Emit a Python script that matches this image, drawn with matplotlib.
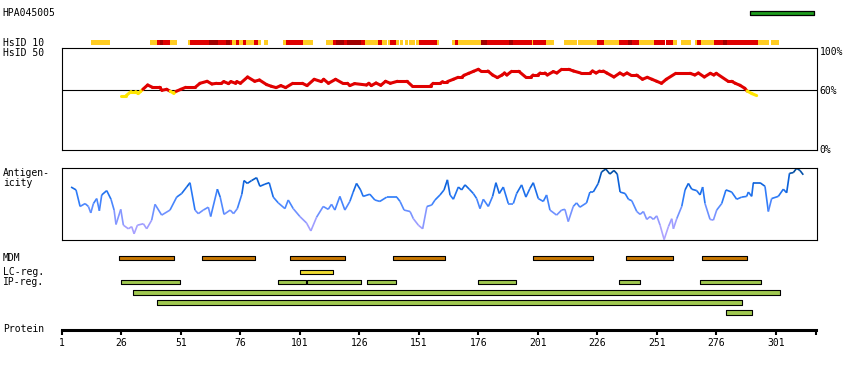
import matplotlib
matplotlib.use("Agg")
import matplotlib.pyplot as plt
from matplotlib.collections import LineCollection
from matplotlib.colors import LinearSegmentedColormap

plt.rcParams['font.family'] = ['DejaVu Sans Mono']

# ---- data ----
SEQ_LEN = 318
TICKS = [1, 26, 51, 76, 101, 126, 151, 176, 201, 226, 251, 276, 301]

ANTIGEN_ID = "HPA045005"
ANTIGEN_RANGE = (290, 317)

# HsID 10 strip: (start, end, level) level 1=low, 2=mid, 3=high
HSID10_SEGS = [
    (13, 21, 1), (38, 41, 1), (41, 42, 2), (42, 43.5, 3), (43.5, 46.5, 2), (46.5, 49.5, 1),
    (54, 55, 1), (55, 63, 2), (63, 66.5, 3), (66.5, 70, 2), (70, 71.5, 3), (71.5, 72.5, 2),
    (72.5, 74, 1), (74, 75.5, 2), (75.5, 77, 1), (77, 78.5, 2), (78.5, 81.5, 1), (81.5, 83.5, 2),
    (83.5, 84.5, 1), (86, 87.5, 1), (94, 95, 1), (95, 102.5, 2), (102.5, 106.5, 1),
    (112, 115, 1), (115, 116, 2), (116, 119.5, 3), (119.5, 121, 2), (121, 126.5, 3),
    (126.5, 128.5, 2), (128.5, 134, 1), (134, 135.5, 2), (135.5, 137.5, 1), (138, 139, 1),
    (139, 141.5, 2), (141.5, 142.5, 1), (143, 144.5, 1), (145, 146.5, 1), (147, 149.5, 1),
    (150, 151, 1), (151, 158.5, 2), (158.5, 159.5, 1), (165, 166, 1), (166, 167.5, 2),
    (167.5, 177, 1), (177, 179.5, 3), (179.5, 189, 2), (189, 190.5, 3), (190.5, 198.5, 2),
    (198.5, 199, 1), (199, 204.5, 2), (204.5, 208, 1), (212, 217.5, 1), (218, 226, 1),
    (226, 229, 2), (229, 235, 1), (235, 239, 2), (239, 240.5, 3), (240.5, 243.5, 2),
    (243.5, 250, 1), (250, 254.5, 2), (255, 258, 2), (258, 259.5, 1), (261, 265.5, 1),
    (267, 268, 1), (268, 269.5, 2), (269.5, 275, 1), (275, 279, 2), (279, 280.5, 3),
    (280.5, 293.5, 2), (293.5, 298, 1), (299, 302.5, 1),
]

# HsID 50 identity line (%)
HSID50_POS = [26, 28, 30, 32, 33, 34, 35, 37, 39, 42, 43, 45, 46.5, 48, 49, 51, 53, 57, 59, 62,
              64, 66, 68, 69, 71, 72, 74, 74.5, 76, 79, 82, 84, 87, 89, 91, 93, 95, 98, 102, 104,
              107, 110, 111, 113, 116, 119, 121, 122, 124, 129, 130, 131, 133, 135, 137, 139, 142,
              146, 148, 156, 157, 160, 161, 163, 165.5, 167.5, 169, 170, 172, 174, 176, 177, 180,
              182, 184, 186, 187, 188, 190, 193, 196, 198, 199, 201, 202, 204, 205, 207.5, 209,
              211, 214, 216, 219, 223, 224, 225.5, 227, 228.5, 230, 233, 235.5, 237, 238.5, 240,
              242.5, 245, 247, 249, 251, 253, 255, 259, 265, 267, 268.5, 271, 273.5, 275, 276,
              281, 282.5, 284, 286, 288, 289, 291, 293]
HSID50_VAL = [54.7, 54.7, 58.7, 58.7, 56.7, 58.7, 61, 65.3, 63, 63, 60, 61, 59, 57, 59, 61, 63, 63,
              67, 69, 66.3, 67, 67, 68.7, 66.7, 68.7, 67, 68.7, 67, 73.3, 69, 70.3, 65.7, 64, 62.7,
              64.7, 62.7, 67, 67, 64.7, 71, 68.7, 71, 67, 71, 67, 67, 64.7, 66.7, 65.3, 67, 64.7,
              67.3, 65, 69, 67, 69, 69, 64.7, 64.7, 67, 67, 68.7, 68.7, 71, 73, 73, 75, 77, 79,
              81, 79.3, 79.3, 75.3, 72.7, 75.3, 77.3, 75.3, 79, 79, 73, 73, 75.3, 75.3, 77.3, 77.3,
              75.3, 78.7, 77.3, 81, 81, 79.3, 77.3, 77.3, 79.3, 77.3, 79.3, 79.3, 77.3, 73.3, 77.3,
              75.3, 77.3, 75.3, 75.3, 71, 73, 71, 69, 67, 71, 77, 77, 75.3, 77.3, 73.3, 77, 75.3,
              77, 69, 69, 67, 65, 62, 59.3, 56.7, 54.7]
HSID_CUTOFF = 60

# antigenicity profile (relative, 0 = panel bottom, 1 = panel top)
ANTI_POS = [4.8, 6.9, 8.6, 10.7, 12.1, 13.1, 14.2, 15.6, 16.7, 17.7, 19.8, 21.6, 22.9, 23.7, 25.7,
            26.8, 28.9, 30.3, 31.3, 32.7, 35.2, 36.6, 38.7, 40.1, 42.9, 46.4, 49.2, 51.3, 53.4,
            54.8, 56.9, 58.3, 60.4, 62.5, 63.5, 66.3, 67.5, 69.1, 71.7, 73.1, 74.7, 76.6, 77.5,
            78.9, 80.7, 82.8, 84.2, 86.3, 88.1, 89.8, 91.9, 94.7, 96.1, 98.2, 101.0, 103.8, 105.6,
            108.0, 110.8, 112.9, 114.3, 115.7, 117.8, 119.9, 122.0, 123.4, 124.8, 126.5, 127.6,
            130.4, 132.5, 134.6, 137.5, 141.7, 143.1, 144.8, 147.3, 148.7, 150.8, 152.6, 154.4,
            156.4, 157.8, 159.9, 161.6, 163.0, 164.1, 165.5, 167.6, 169.0, 170.4, 172.2, 173.9,
            175.3, 176.7, 178.1, 180.2, 182.0, 183.4, 184.8, 186.5, 188.6, 190.7, 192.1, 194.2,
            196.0, 197.7, 199.1, 201.2, 203.3, 204.7, 206.1, 208.9, 211.0, 212.4, 213.8, 215.9,
            217.3, 218.7, 221.5, 222.9, 224.3, 226.4, 227.8, 229.6, 231.3, 233.0, 234.4, 235.6,
            237.7, 239.1, 240.5, 242.6, 244.0, 245.4, 246.8, 248.2, 249.6, 251.0, 252.4, 254.1,
            255.9, 257.3, 258.0, 259.4, 261.5, 262.9, 264.3, 265.7, 267.8, 269.2, 270.3, 271.3,
            273.4, 274.8, 276.2, 278.3, 280.1, 282.5, 284.6, 286.7, 288.8, 289.5, 290.9, 291.6,
            294.4, 296.5, 297.9, 299.3, 302.1, 304.2, 305.6, 306.8, 308.4, 309.8, 311.2, 312.6]
ANTI_VAL = [0.74, 0.70, 0.47, 0.51, 0.47, 0.38, 0.51, 0.58, 0.41, 0.63, 0.69, 0.57, 0.42, 0.22, 0.43,
            0.21, 0.16, 0.19, 0.09, 0.21, 0.23, 0.16, 0.28, 0.50, 0.35, 0.42, 0.60, 0.65, 0.74,
            0.80, 0.42, 0.37, 0.42, 0.46, 0.33, 0.71, 0.60, 0.36, 0.42, 0.37, 0.44, 0.64, 0.83,
            0.79, 0.83, 0.87, 0.75, 0.78, 0.80, 0.60, 0.52, 0.44, 0.56, 0.44, 0.33, 0.24, 0.13,
            0.32, 0.47, 0.43, 0.50, 0.42, 0.61, 0.42, 0.54, 0.67, 0.79, 0.70, 0.61,
            0.64, 0.56, 0.54, 0.60, 0.60, 0.54, 0.42, 0.40, 0.30, 0.21, 0.16, 0.47,
            0.49, 0.56, 0.63, 0.70, 0.84, 0.63, 0.57, 0.74, 0.70, 0.77, 0.71, 0.65,
            0.58, 0.44, 0.57, 0.47, 0.61, 0.80, 0.65, 0.74, 0.51, 0.51, 0.65, 0.77,
            0.60, 0.72, 0.80, 0.58, 0.54, 0.63, 0.42, 0.35, 0.42, 0.43, 0.26, 0.47,
            0.52, 0.46, 0.52, 0.67, 0.67, 0.79, 0.95, 0.99, 0.92, 0.97, 0.92, 0.67,
            0.65, 0.57, 0.55, 0.40, 0.36, 0.40, 0.29, 0.33, 0.29, 0.34, 0.21, 0.01,
            0.19, 0.30, 0.16, 0.30, 0.47, 0.70, 0.79, 0.71, 0.69, 0.63, 0.74, 0.51,
            0.29, 0.28, 0.42, 0.51, 0.70, 0.67, 0.57, 0.60, 0.61, 0.67, 0.61, 0.80,
            0.80, 0.75, 0.40, 0.58, 0.61, 0.71, 0.66, 0.93, 0.94, 1.00, 0.97, 0.91]

# feature tracks
MDM = [(25, 48), (60, 82), (97, 120), (140, 162), (199, 224), (238, 258), (270, 289)]
LC_REG = [(101, 115)]
IP_REG_ROWS = [
    [(26, 50.5), (92, 103.5), (104, 126.5), (129, 141.5), (176, 192), (235, 244), (269, 295)],
    [(31, 303)],
    [(41, 287)],
    [(280, 291)],
]

# ---- layout (pixels of an 850x370 picture) ----
W, H = 850, 370
PX0, PX1 = 61.5, 817.0
RES1_PX, PX_PER_RES = 62.0, 2.379
XLIM = (1 + (PX0 - RES1_PX) / PX_PER_RES, 1 + (PX1 - RES1_PX) / PX_PER_RES)
LVL_COLORS = {1: '#FFCC22', 2: '#E00000', 3: '#A00000'}


def rect(x0, y0, x1, y1):
    return [x0 / W, 1 - y1 / H, (x1 - x0) / W, (y1 - y0) / H]


def label(x, y, s, **kw):
    fig.text(x / W, 1 - y / H, s, fontsize=7, va='center', **kw)


fig = plt.figure(figsize=(8.5, 3.7), dpi=100)

# overlay for strips / bars (y in pixels)
trk = fig.add_axes(rect(PX0, 0, PX1, H))
trk.set_xlim(XLIM)
trk.set_ylim(H, 0)
trk.axis('off')

trk.broken_barh([(ANTIGEN_RANGE[0], ANTIGEN_RANGE[1] - ANTIGEN_RANGE[0])], (10.5, 4),
                facecolors='#1E9E1E', edgecolor='black', linewidth=0.9)

for lvl, col in LVL_COLORS.items():
    segs = [(s, e - s) for s, e, l in HSID10_SEGS if l == lvl]
    trk.broken_barh(segs, (40, 5), facecolors=col, linewidth=0)


def bars(ranges, yc, color):
    trk.broken_barh([(s, e - s) for s, e in ranges], (yc - 2.2, 4.4),
                    facecolors=color, edgecolor='black', linewidth=0.8)


bars(MDM, 258, '#C87800')
bars(LC_REG, 272.2, '#F0DC30')
for yc, row in zip([282.2, 292.3, 302.3, 312.3], IP_REG_ROWS):
    bars(row, yc, '#A0C850')

# HsID 50 panel
ax1 = fig.add_axes(rect(PX0, 48.3, PX1, 150.3))
ax1.set_xlim(XLIM)
ax1.set_ylim(0, 102)
ax1.axhline(HSID_CUTOFF, color='black', lw=0.8)
pts = list(zip(HSID50_POS, HSID50_VAL))
segs = [[pts[i], pts[i + 1]] for i in range(len(pts) - 1)]
cols = ['#E00000' if (a[1] + b[1]) / 2 >= HSID_CUTOFF else '#FFE600' for a, b in segs]
ax1.add_collection(LineCollection(segs, colors=cols, linewidths=2.2, capstyle='round'))
ax1.set_xticks([])
ax1.set_yticks([])
for sp in ax1.spines.values():
    sp.set_linewidth(0.8)

# antigenicity panel
ax2 = fig.add_axes(rect(PX0, 168.3, PX1, 240.3))
ax2.set_xlim(XLIM)
ax2.set_ylim(0, 1.0)
cmap = LinearSegmentedColormap.from_list('anti', [
    (0.0, '#B8A8FF'), (0.25, '#9C9CFF'), (0.45, '#5A8CFF'),
    (0.6, '#2A7AF8'), (0.8, '#0A60D8'), (1.0, '#004A96')])
pts = list(zip(ANTI_POS, ANTI_VAL))
segs = [[pts[i], pts[i + 1]] for i in range(len(pts) - 1)]
cols = [cmap((a[1] + b[1]) / 2) for a, b in segs]
ax2.add_collection(LineCollection(segs, colors=cols, linewidths=1.2))
ax2.set_xticks([])
ax2.set_yticks([])
for sp in ax2.spines.values():
    sp.set_linewidth(0.8)

# protein ruler
ax3 = fig.add_axes(rect(PX0, 328.7, PX1, 329.7))
ax3.set_xlim(XLIM)
for k in ['top', 'left', 'right']:
    ax3.spines[k].set_visible(False)
ax3.spines['bottom'].set_linewidth(2.2)
ax3.spines['bottom'].set_bounds(1, SEQ_LEN)
ax3.set_yticks([])
ax3.set_xticks(TICKS)
ax3.set_xticks([SEQ_LEN], minor=True)
ax3.tick_params(which='both', direction='out', length=3.3, width=1.5, pad=2.5, labelsize=7)
ax3.patch.set_alpha(0)

# texts
label(2.7, 13, ANTIGEN_ID)
label(2.7, 42.5, "HsID 10")
label(2.7, 52.5, "HsID 50")
label(2.7, 172.8, "Antigen-")
label(2.7, 183, "icity")
label(2.7, 258, "MDM")
label(2.7, 272, "LC-reg.")
label(2.7, 282, "IP-reg.")
label(2.7, 329, "Protein")
label(819.5, 52, "100%")
label(819.5, 90.5, "60%")
label(819.5, 150, "0%")

fig.savefig("out.png", dpi=100)
